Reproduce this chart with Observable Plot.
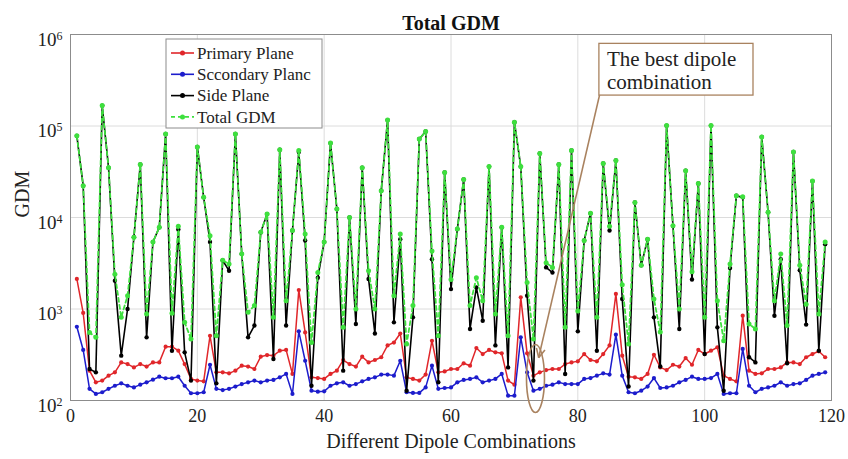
<!DOCTYPE html>
<html><head><meta charset="utf-8">
<script src="https://cdn.jsdelivr.net/npm/d3@7"></script>
<script src="https://cdn.jsdelivr.net/npm/@observablehq/plot@0.6"></script>
<style>
body{margin:0;background:#fff;}
#chart{width:848px;height:459px;}
</style></head><body><div id="chart"></div>
<script>
// ---- data ----
const combos = d3.range(1, 120); // combination index 1..119
const primary = [2130,905,212,158,165,187,203,261,250,230,
250,235,261,261,387,387,350,250,172,165,
162,510,203,203,198,212,240,235,221,301,
314,309,350,357,195,1610,555,179,176,172,
195,212,277,250,235,301,261,277,297,400,
430,540,179,172,165,192,450,203,208,221,
221,255,240,375,322,357,336,328,165,149,
1340,328,187,203,215,221,221,250,261,268,
322,277,268,322,400,1460,309,182,179,172,
195,316,230,215,246,235,291,246,357,322,
350,381,187,172,162,845,212,195,198,221,
221,230,261,261,250,297,322,345,297];
const secondary = [640,357,134,118,123,134,145,154,145,139,
149,158,169,182,175,175,182,145,120,120,
123,246,134,130,134,142,151,158,165,158,
165,168,179,195,118,570,272,128,125,126,
145,154,158,145,151,162,172,179,192,192,
187,272,123,121,121,139,240,134,137,139,
158,168,172,179,158,165,172,195,113,113,
490,203,128,134,145,149,158,151,151,151,
172,176,187,198,192,524,187,123,120,128,
142,176,137,139,145,158,168,182,172,172,
176,195,118,120,120,366,145,123,134,139,
145,158,145,151,154,168,187,195,203];
const side = [78000,22300,221,203,167000,35000,2040,309,1000,6100,
38000,490,5400,7800,82000,350,7400,336,165,59000,
16600,5400,154,3400,2620,82000,4000,490,660,6900,
10900,284,55000,660,7200,52000,5600,145,2200,5400,
65000,12400,212,10000,685,35000,2130,540,19600,116000,
715,5800,128,810,72000,87000,3500,158,31000,1650,
7500,26000,605,1720,745,36000,400,7800,230,110000,
36000,1400,165,50000,2850,2500,38000,195,54000,570,
5600,11100,350,39000,7200,42000,1290,142,14600,3000,
5800,810,235,101000,8100,605,32500,2100,23600,322,
101000,630,128,2800,17300,16600,297,261,76000,11400,
845,3500,255,52000,2650,675,25000,350,5100];
const total = [78000,22300,555,490,167000,35000,2400,810,1400,6100,
38000,880,5400,7800,82000,900,8000,715,470,59000,
16600,6300,510,3400,3100,82000,4000,920,1090,6900,
10900,810,55000,1230,7200,54000,6600,430,2500,5400,
65000,12400,630,10000,1000,35000,2620,1000,19600,116000,
1400,6600,415,1090,72000,87000,4300,510,31000,2100,
7500,26000,1090,2200,1230,36000,880,7800,510,110000,
36000,1950,470,50000,3200,2850,38000,630,54000,950,
5600,11100,810,39000,8000,42000,1840,415,14600,3000,
5800,1290,560,101000,8100,1000,32500,2550,23600,810,
101000,1230,450,3100,17300,16900,685,605,76000,11400,
1230,4000,660,52000,3000,1130,25000,880,5400];
const seriesNames = ["Primary Plane", "Sccondary Planc", "Side Plane", "Total GDM"];
const seriesValues = [primary, secondary, side, total];
const xTicks = [0, 20, 40, 60, 80, 100, 120];
const yTicks = [1e2, 1e3, 1e4, 1e5, 1e6];
const annotationLines = ["The best dipole", "combination"];
const bestCombo = 73;

// ---- styles ----
const colors = ["#e0262a", "#1c1ccc", "#000000", "#3ee03e"];
const brown = "#a9825f";
const FONT = "'Liberation Serif','Times New Roman',serif";

const rows = seriesValues.map((vals, s) => combos.map((c, i) => ({x: c, v: vals[i], s})));

const lineMark = (s, extra = {}) => Plot.line(rows[s], {x: "x", y: "v", stroke: colors[s], strokeWidth: 1.5, ...extra});
const dotMark = (s, r) => Plot.dot(rows[s], {x: "x", y: "v", fill: colors[s], r, stroke: "none"});

const plot = Plot.plot({
  width: 848, height: 459,
  marginLeft: 70, marginRight: 17, marginTop: 34, marginBottom: 59,
  style: {fontFamily: FONT, fontSize: "18px", color: "#222", background: "#fff", overflow: "visible"},
  x: {domain: [0, 120], label: null},
  y: {type: "log", domain: [1e2, 1e6], label: null},
  marks: [
    Plot.gridX(xTicks, {stroke: "#dcdcdc", strokeOpacity: 1}),
    Plot.gridY(yTicks, {stroke: "#dcdcdc", strokeOpacity: 1}),
    Plot.frame({stroke: "#8c8c8c", strokeWidth: 1}),
    lineMark(0), dotMark(0, 2.1),
    lineMark(1), dotMark(1, 2.1),
    lineMark(2, {strokeWidth: 1.6}), dotMark(2, 2.2),
    lineMark(3, {strokeWidth: 1.8, strokeDasharray: "4,3"}), dotMark(3, 2.5),
    Plot.axisX(xTicks, {tickSize: 0, tickPadding: 9, fontSize: 18, fill: "#222", label: null}),
    Plot.axisY(yTicks, {tickSize: 0, tickPadding: 8, fontSize: 19, fill: "#222", dy: 5, label: null,
      tickFormat: d => "10^" + Math.round(Math.log10(d))}),
    Plot.text(["Total GDM"], {frameAnchor: "top", dy: -19, fontWeight: "bold", fontSize: 20, fill: "#111"}),
    Plot.text(["Different Dipole Combinations"], {frameAnchor: "bottom", dy: 47, fontSize: 20, fill: "#222"}),
    Plot.text(["GDM"], {frameAnchor: "left", dx: -48, rotate: -90, fontSize: 20, fill: "#222"})
  ]
});
document.getElementById("chart").appendChild(plot);

// superscript exponents for y tick labels
d3.select(plot).selectAll('g[aria-label="y-axis tick label"] text').each(function () {
  const t = d3.select(this);
  const m = /^10\^(\d+)$/.exec(t.text());
  if (!m) return;
  t.text(null);
  t.append("tspan").text("10");
  t.append("tspan").attr("dy", "-0.5em").attr("font-size", "12px").text(m[1]);
});

const sx = plot.scale("x"), sy = plot.scale("y");
const X = v => sx.apply(v), Y = v => sy.apply(v);
const svg = d3.select(plot);

// legend
const lg = svg.append("g").attr("font-family", FONT).attr("font-size", 17).attr("text-anchor", "start");
const lx = 166, ly = 39;
lg.append("rect").attr("x", lx).attr("y", ly).attr("width", 156).attr("height", 89)
  .attr("fill", "#fff").attr("stroke", "#8c8c8c");
seriesNames.forEach((name, i) => {
  const cy = ly + 14 + i * 21.3;
  lg.append("line").attr("x1", lx + 5).attr("x2", lx + 28).attr("y1", cy).attr("y2", cy)
    .attr("stroke", colors[i]).attr("stroke-width", 1.6)
    .attr("stroke-dasharray", i === 3 ? "4,3" : null);
  lg.append("circle").attr("cx", lx + 16.5).attr("cy", cy).attr("r", 2.5).attr("fill", colors[i]);
  lg.append("text").attr("x", lx + 31).attr("y", cy).attr("dy", "0.33em")
    .attr("text-anchor", "start").attr("fill", "#222").text(name);
});

// annotation: box, arrow, ellipse
const bx1 = X(83.4), bx2 = X(107.7), by1 = Y(7.9e5), by2 = Y(2.15e5);
const ag = svg.append("g").attr("font-family", FONT).attr("text-anchor", "start");
ag.append("rect").attr("x", bx1).attr("y", by1).attr("width", bx2 - bx1).attr("height", by2 - by1)
  .attr("fill", "#fff").attr("stroke", brown).attr("stroke-width", 1.3);
annotationLines.forEach((s, i) => {
  ag.append("text").attr("x", bx1 + 8).attr("y", by1 + 16 + i * 23).attr("dy", "0.33em")
    .attr("text-anchor", "start").attr("font-size", 21).attr("fill", "#222").text(s);
});
const ax1 = X(83.5), ay1 = by2, ax2 = X(bestCombo + 0.9), ay2 = Y(290);
ag.append("line").attr("x1", ax1).attr("y1", ay1).attr("x2", ax2).attr("y2", ay2)
  .attr("stroke", brown).attr("stroke-width", 1.6);
const ang = Math.atan2(ay2 - ay1, ax2 - ax1);
[0.45, -0.45].forEach(a => {
  ag.append("line").attr("x1", ax2).attr("y1", ay2)
    .attr("x2", ax2 - 10 * Math.cos(ang + a)).attr("y2", ay2 - 10 * Math.sin(ang + a))
    .attr("stroke", brown).attr("stroke-width", 1.6);
});
ag.append("ellipse").attr("cx", X(bestCombo + 0.4)).attr("cy", Y(172)).attr("rx", 9).attr("ry", 34)
  .attr("fill", "none").attr("stroke", brown).attr("stroke-width", 1.6);
</script>
</body></html>
